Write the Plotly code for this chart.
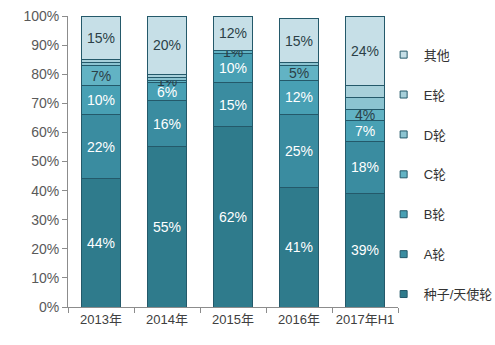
import plotly.graph_objects as go

# Funding-round share by year (percent of deals)
years = ["2013年", "2014年", "2015年", "2016年", "2017年H1"]
series_names = ["种子/天使轮", "A轮", "B轮", "C轮", "D轮", "E轮", "其他"]
seed = [44, 55, 62, 41, 39]
round_a = [22, 16, 15, 25, 18]
round_b = [10, 6, 10, 12, 7]
round_c = [7, 1, 1, 5, 4]
round_d = [1, 1, 0, 1, 4]
round_e = [1, 1, 0, 0, 4]
other = [15, 20, 12, 15, 24]
values = [seed, round_a, round_b, round_c, round_d, round_e, other]
# which series carry value labels
labelled = [True, True, True, True, False, False, True]

colors = ["#2f7b8c", "#3a8ca0", "#48a0b4", "#62b3c4", "#8cc4d1", "#a7d0da", "#c6dfe7"]
text_colors = ["#ffffff", "#ffffff", "#ffffff", "#2b3f47", "#2b3f47", "#2b3f47", "#2b3f47"]
EDGE = "#24596a"

FONT = "Liberation Sans, Arial, Noto Sans CJK SC, sans-serif"

fig = go.Figure()
n = len(series_names)
for i, (name, vals) in enumerate(zip(series_names, values)):
    txt = [f"{v}%" if labelled[i] else "" for v in vals]
    fig.add_trace(go.Bar(
        x=years, y=vals, name=name,
        marker=dict(color=colors[i], line=dict(color=EDGE, width=1)),
        text=txt, texttemplate="%{text}", textposition="inside",
        insidetextanchor="middle", textangle=0,
        textfont=dict(color=text_colors[i], size=14, family=FONT),
        legendgroup=f"g{i}", showlegend=False, hoverinfo="skip",
    ))
    # small square legend key for the series
    fig.add_trace(go.Scatter(
        x=[None], y=[None], mode="markers", name=name,
        marker=dict(symbol="square", size=7, color=colors[i],
                    line=dict(color=EDGE, width=1)),
        legendgroup=f"g{i}", legendrank=n - i, showlegend=True,
    ))

fig.update_layout(
    width=495, height=345,
    margin=dict(l=68, r=97, t=16, b=38, autoexpand=False),
    barmode="stack", bargap=0.42,
    plot_bgcolor="white", paper_bgcolor="white",
    font=dict(family=FONT, size=12, color="#404040"),
    uniformtext=dict(minsize=14, mode="show"),
    legend=dict(
        xref="container", yref="container",
        x=0.775, y=0.885, xanchor="left", yanchor="top",
        traceorder="grouped", tracegroupgap=20,
        font=dict(size=13, color="#333333", family=FONT),
        itemwidth=30, bgcolor="rgba(0,0,0,0)", maxheight=340,
    ),
    showlegend=True,
)
fig.update_yaxes(
    range=[0, 100], tickvals=list(range(0, 101, 10)),
    ticktext=[f"{v}%" for v in range(0, 101, 10)],
    showgrid=False, zeroline=False, showline=True, linecolor="#8c8c8c",
    ticks="outside", ticklen=5, tickcolor="#8c8c8c",
    tickfont=dict(size=14, color="#595959"),
)
fig.update_xaxes(
    showline=True, linecolor="#8c8c8c", ticks="outside", ticklen=5,
    tickcolor="#8c8c8c", tickson="boundaries", tickangle=0,
    tickfont=dict(size=13, color="#404040"), automargin=False,
)

fig.write_html("out.html")
